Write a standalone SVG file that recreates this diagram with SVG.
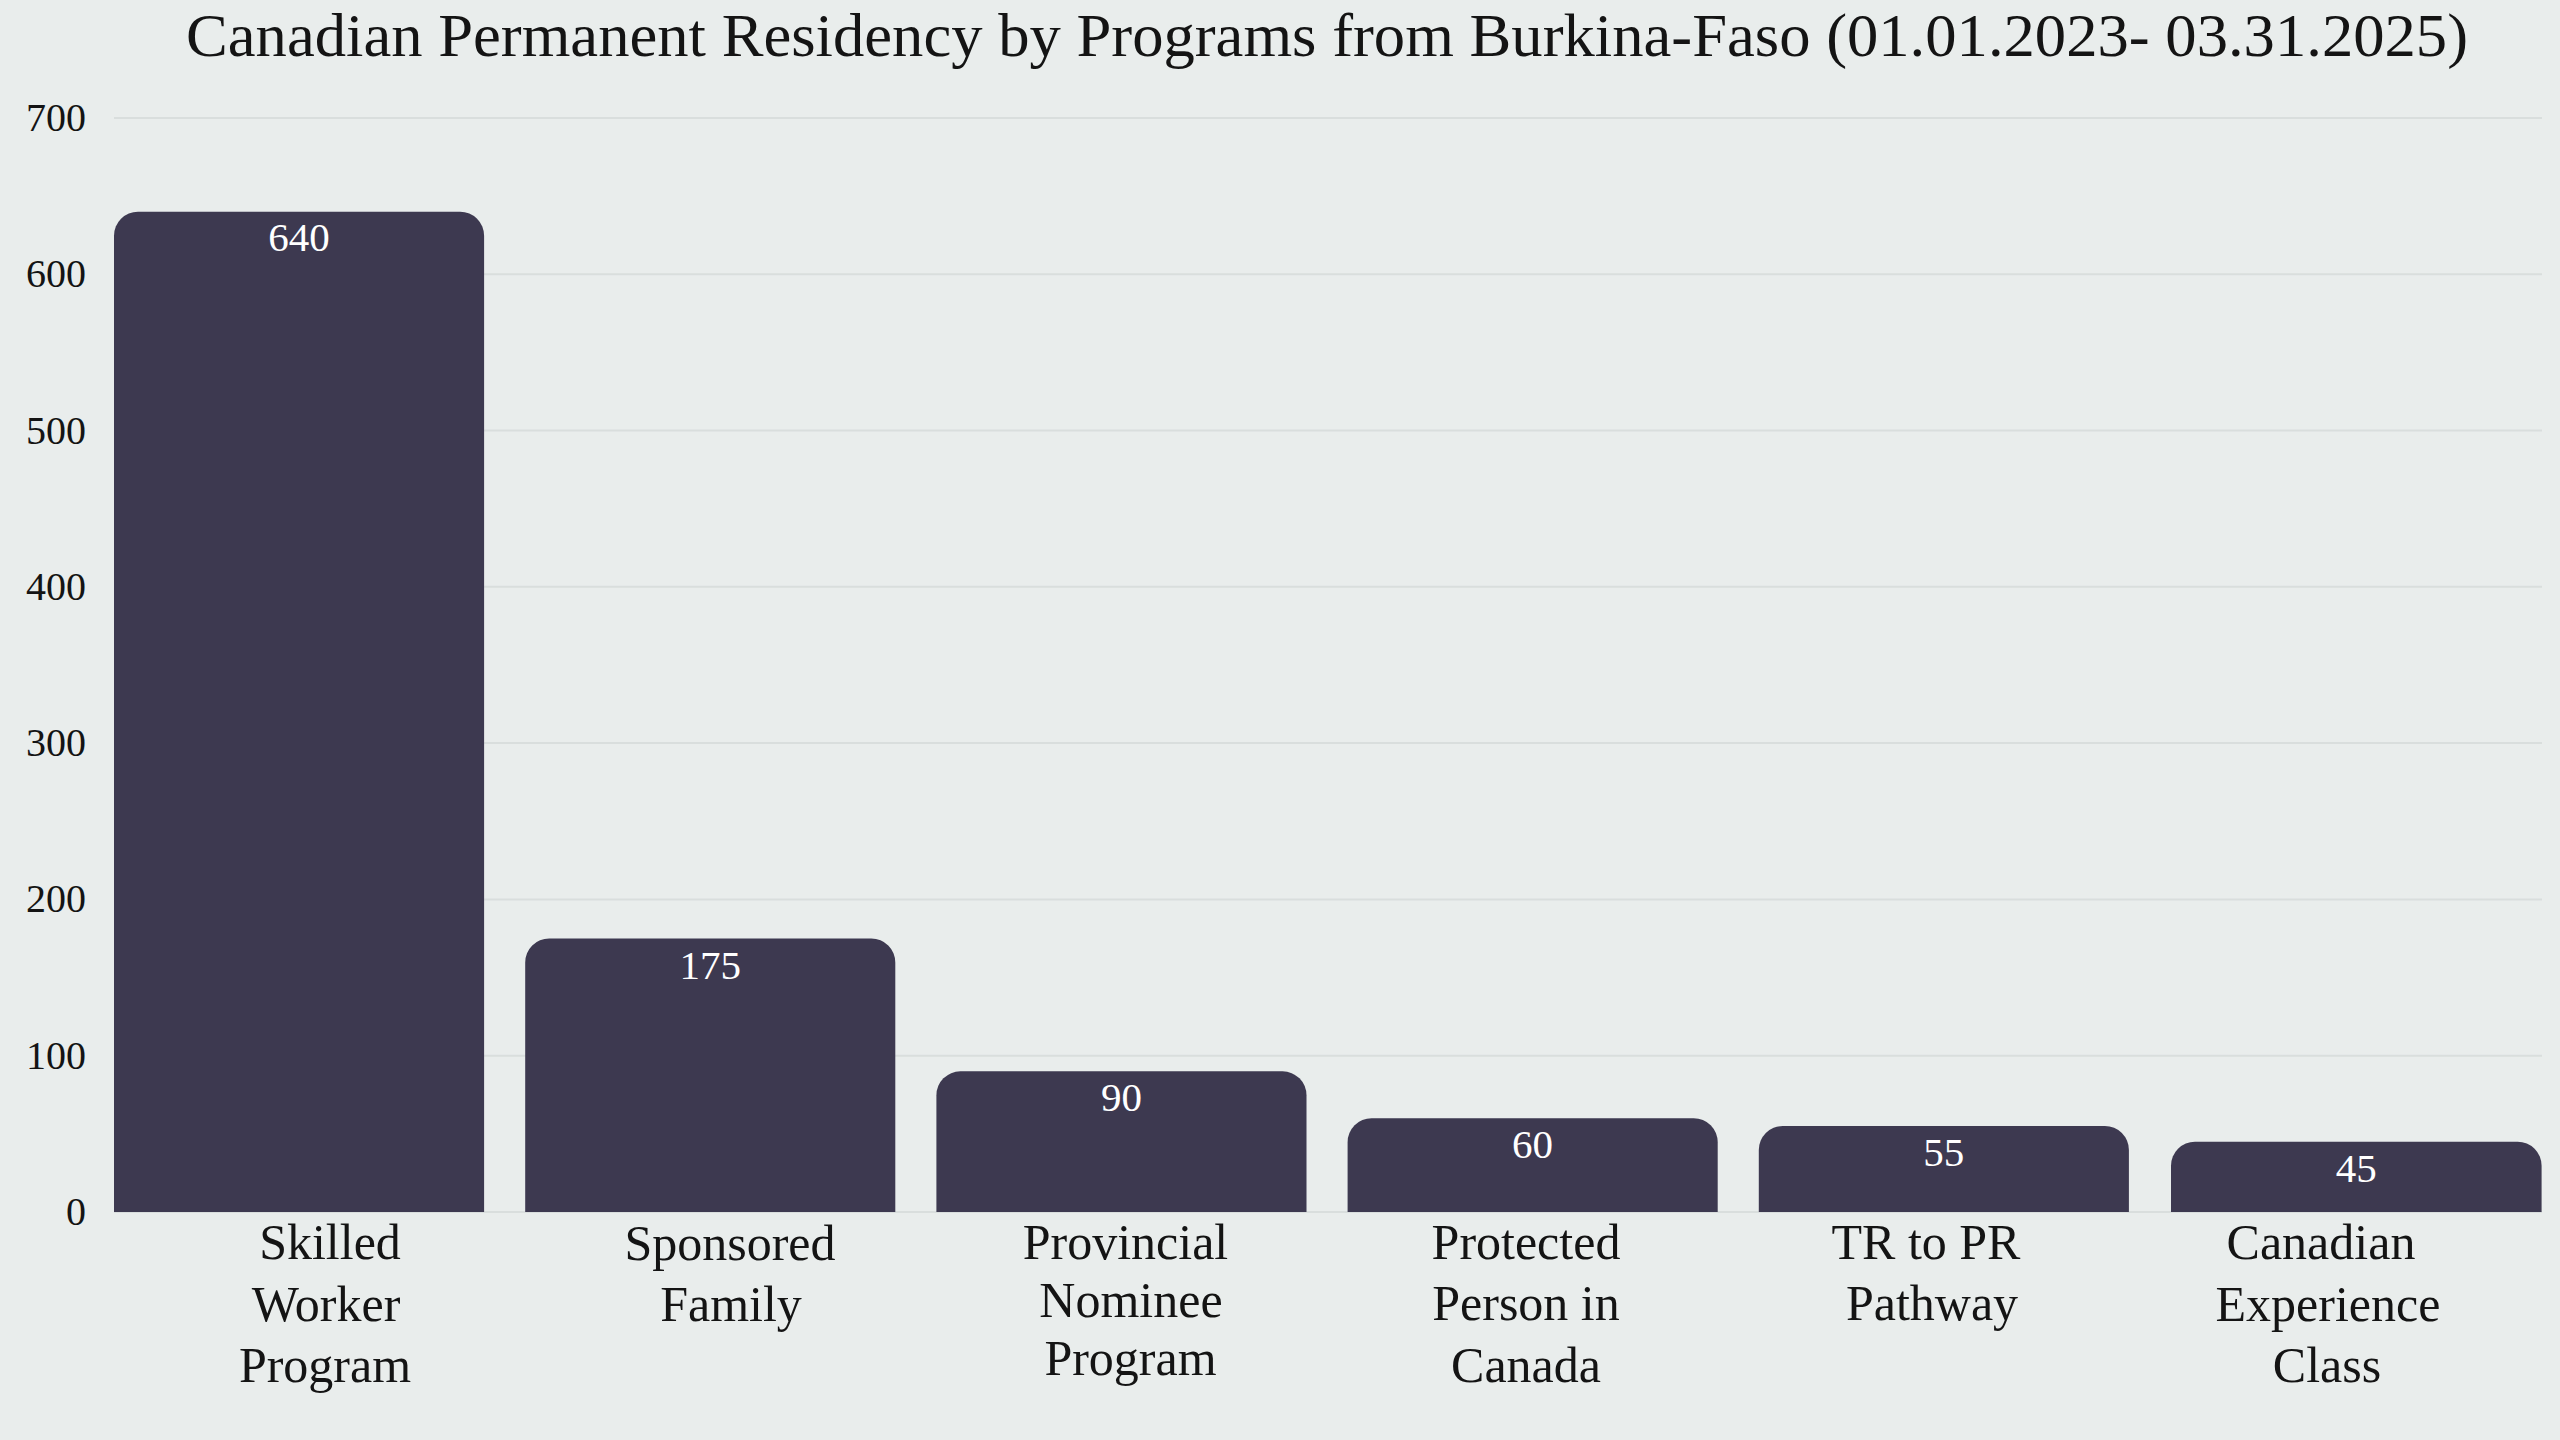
<svg xmlns="http://www.w3.org/2000/svg" width="2560" height="1440" viewBox="0 0 2560 1440">
<style>
.bg{fill:#e9edec}
.grid{stroke:#d9dedd;stroke-width:2;fill:none}
.bar{fill:#3d3950}
.t{font-family:"Liberation Serif","Times New Roman",serif;fill:#141414}
.title{font-size:62px}
.ytick{font-size:40px;text-anchor:end}
.val{font-size:41px;fill:#ffffff;text-anchor:middle}
.xl{font-size:50px;text-anchor:middle}
</style>
<rect class="bg" x="0" y="0" width="2560" height="1440"/>
<text id="title" class="t title" x="1327" y="56" text-anchor="middle" textLength="2282" lengthAdjust="spacingAndGlyphs">Canadian Permanent Residency by Programs from Burkina-Faso (01.01.2023- 03.31.2025)</text>
<g id="gridlines">
<line class="grid" x1="114" y1="118" x2="2542" y2="118"/>
<line class="grid" x1="114" y1="274.3" x2="2542" y2="274.3"/>
<line class="grid" x1="114" y1="430.6" x2="2542" y2="430.6"/>
<line class="grid" x1="114" y1="586.8" x2="2542" y2="586.8"/>
<line class="grid" x1="114" y1="743.1" x2="2542" y2="743.1"/>
<line class="grid" x1="114" y1="899.4" x2="2542" y2="899.4"/>
<line class="grid" x1="114" y1="1055.7" x2="2542" y2="1055.7"/>
<line class="grid" x1="114" y1="1212" x2="2542" y2="1212"/>
</g>
<g id="y-axis">
<text class="t ytick" x="86" y="131">700</text>
<text class="t ytick" x="86" y="287.3">600</text>
<text class="t ytick" x="86" y="443.6">500</text>
<text class="t ytick" x="86" y="599.8">400</text>
<text class="t ytick" x="86" y="756.1">300</text>
<text class="t ytick" x="86" y="912.4">200</text>
<text class="t ytick" x="86" y="1068.7">100</text>
<text class="t ytick" x="86" y="1225">0</text>
</g>
<g id="bar-skilled-worker">
<path class="bar" d="M114,1212 V235.7 A24,24 0 0 1 138,211.7 H460.1 A24,24 0 0 1 484.1,235.7 V1212 Z"/>
<text class="t val" x="299" y="251">640</text>
<text class="t xl" x="330" y="1259">Skilled</text>
<text class="t xl" x="326" y="1320.5">Worker</text>
<text class="t xl" x="325" y="1381.5">Program</text>
</g>
<g id="bar-sponsored-family">
<path class="bar" d="M525.2,1212 V962.5 A24,24 0 0 1 549.2,938.5 H871.3 A24,24 0 0 1 895.3,962.5 V1212 Z"/>
<text class="t val" x="710.2" y="979">175</text>
<text class="t xl" x="730" y="1260">Sponsored</text>
<text class="t xl" x="731" y="1321">Family</text>
</g>
<g id="bar-provincial-nominee">
<path class="bar" d="M936.4,1212 V1095.3 A24,24 0 0 1 960.4,1071.3 H1282.5 A24,24 0 0 1 1306.5,1095.3 V1212 Z"/>
<text class="t val" x="1121.4" y="1111">90</text>
<text class="t xl" x="1125.5" y="1259">Provincial</text>
<text class="t xl" x="1131" y="1317">Nominee</text>
<text class="t xl" x="1130.5" y="1375">Program</text>
</g>
<g id="bar-protected-person">
<path class="bar" d="M1347.6,1212 V1142.2 A24,24 0 0 1 1371.6,1118.2 H1693.7 A24,24 0 0 1 1717.7,1142.2 V1212 Z"/>
<text class="t val" x="1532.6" y="1158">60</text>
<text class="t xl" x="1526" y="1259">Protected</text>
<text class="t xl" x="1526" y="1320">Person in</text>
<text class="t xl" x="1526" y="1381.7">Canada</text>
</g>
<g id="bar-tr-to-pr">
<path class="bar" d="M1758.8,1212 V1150 A24,24 0 0 1 1782.8,1126 H2104.9 A24,24 0 0 1 2128.9,1150 V1212 Z"/>
<text class="t val" x="1943.8" y="1166">55</text>
<text class="t xl" x="1926" y="1259">TR to PR</text>
<text class="t xl" x="1932" y="1320">Pathway</text>
</g>
<g id="bar-canadian-experience">
<path class="bar" d="M2171,1212 V1165.7 A24,24 0 0 1 2195,1141.7 H2517.6 A24,24 0 0 1 2541.6,1165.7 V1212 Z"/>
<text class="t val" x="2356.3" y="1181.7">45</text>
<text class="t xl" x="2321" y="1259">Canadian</text>
<text class="t xl" x="2328" y="1320.7">Experience</text>
<text class="t xl" x="2327" y="1381.7">Class</text>
</g>
</svg>
